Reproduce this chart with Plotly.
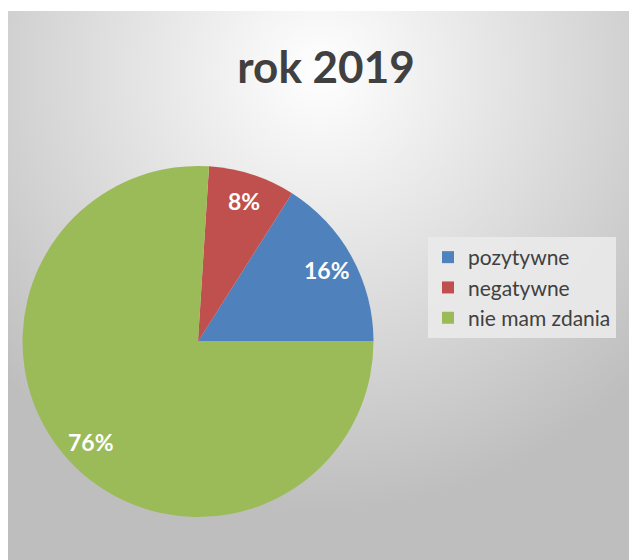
import base64
import math
import plotly.graph_objects as go

labels = ["pozytywne", "negatywne", "nie mam zdania"]
values = [16, 8, 76]
colors = ["#4F81BD", "#C0504D", "#9BBB59"]
title_text = "rok 2019"

W, H = 637, 560
total = sum(values)

# pie geometry (figure pixels)
CX, CY, R = 190.0, 333.5, 175.5

# radial gradient background as SVG
BW, BH = W, H - 3
svg = f'''<svg xmlns="http://www.w3.org/2000/svg" width="{BW}" height="{BH}" viewBox="0 0 {BW} {BH}">
<defs><radialGradient id="g" gradientUnits="userSpaceOnUse" cx="312" cy="60" r="440">
<stop offset="0" stop-color="#FFFFFF"/><stop offset="1" stop-color="#BEBEBE"/></radialGradient></defs>
<rect x="0" y="0" width="{BW}" height="{BH}" fill="url(#g)"/></svg>'''
src = "data:image/svg+xml;base64," + base64.b64encode(svg.encode()).decode()

# first slice starts at 3 o'clock going counterclockwise
rotation = 90 - 360 * values[0] / total

fig = go.Figure(go.Pie(
    labels=labels, values=values, sort=False,
    direction="counterclockwise", rotation=rotation,
    marker=dict(colors=colors, line=dict(width=0)),
    textinfo="none",
    domain=dict(x=[(CX - R) / W, (CX + R) / W], y=[1 - (CY + R) / H, 1 - (CY - R) / H]),
    hoverinfo="label+percent",
))

# data labels along slice bisectors
annotations = []
cum = 0
for v in values:
    mid = math.radians(360 * (cum + v / 2) / total)
    cum += v
    f = 0.84
    px = CX + f * R * math.cos(mid)
    py = CY - f * R * math.sin(mid)
    annotations.append(dict(
        text=f"{round(100 * v / total)}%", x=px / W, y=1 - py / H,
        xref="paper", yref="paper", showarrow=False, xanchor="center", yanchor="middle",
        font=dict(family="Lato", size=23, color="white", weight="bold")))

fig.update_layout(
    width=W, height=H,
    margin=dict(l=0, r=0, t=0, b=0),
    paper_bgcolor="white",
    plot_bgcolor="rgba(0,0,0,0)",
    title=dict(text=title_text, x=318 / W, xanchor="center", y=1 - 60 / H, yanchor="middle",
               font=dict(family="Lato", size=44, color="#404040", weight="bold")),
    legend=dict(x=420 / W, y=1 - 229 / H, xanchor="left", yanchor="top",
                bgcolor="rgba(234,234,234,0.9)", borderwidth=0,
                font=dict(family="Lato", size=21, color="#404040")),
    annotations=annotations,
    images=[dict(source=src, xref="paper", yref="paper", x=0, y=1 - 3 / H,
                 sizex=BW / W, sizey=BH / H, xanchor="left", yanchor="top",
                 sizing="stretch", layer="below")],
)

fig.write_html("out.html")
